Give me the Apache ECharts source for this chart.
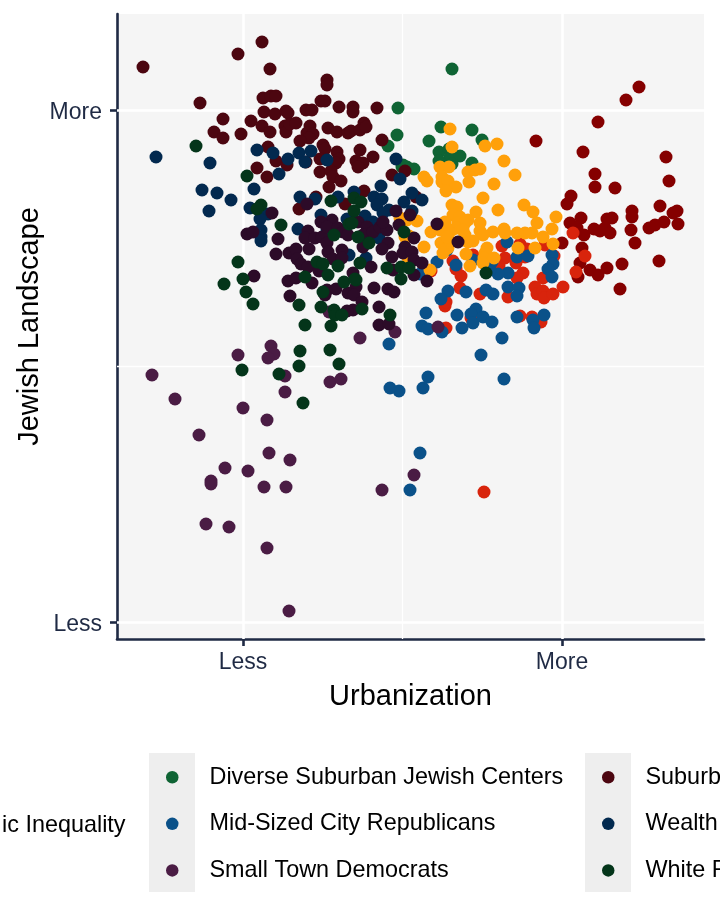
<!DOCTYPE html>
<html><head><meta charset="utf-8">
<style>html,body{margin:0;padding:0;background:#fff;overflow:hidden}#c{width:720px;height:921px}</style>
<script src="https://cdn.jsdelivr.net/npm/echarts@6/dist/echarts.min.js"></script>
</head><body><div id="c"></div>
<script>
const xTickValues=[0,319];
const xTickLabels=['Less','More'];
const yTickValues=[0,512];
const yTickLabels=['Less','More'];
const xMinorValues=[159.5];
const yMinorValues=[256];
const darkRed=[[396,535],[383,522],[355,500],[293,481],[340,470],[423,465],[352,448],[352,435],[372,434],[426,441],[328,426],[324,418],[417,416],[434,411],[430,409],[421,400],[435,398],[412,397],[406,394],[389,411],[389,405],[388,392],[392,379],[369,404],[364,403],[338,404],[327,399],[334,394],[341,387],[351,393],[357,391],[362,394],[367,389],[319,379],[339,374],[337,359],[335,345],[347,352],[355,347],[364,354],[379,358],[416,361],[377,333]];
const diverse=[[209,553],[155,514],[154,487],[198,495],[229,492],[239,482],[186,481],[196,470],[206,473],[207,465],[196,461],[217,466],[229,459],[209,458],[171,453],[164,455],[159,455],[145,476],[160,457]];
const orange=[[207,493],[209,475],[242,476],[254,478],[261,461],[272,447],[251,438],[226,440],[225,450],[232,452],[237,453],[197,455],[206,455],[181,445],[184,441],[199,445],[199,440],[205,441],[213,435],[203,431],[240,424],[255,412],[281,417],[290,410],[294,399],[313,405],[309,393],[300,385],[289,389],[282,389],[274,389],[261,393],[262,389],[250,390],[237,399],[237,391],[240,387],[233,410],[225,402],[209,417],[214,415],[210,407],[217,405],[215,399],[222,399],[202,400],[209,392],[214,394],[204,389],[188,390],[174,401],[222,387],[225,380],[230,381],[198,379],[207,380],[181,375],[244,374],[292,374],[310,378],[275,374],[205,374],[164,402],[157,404],[242,369],[241,364],[240,359],[223,368],[227,356],[251,364],[203,373],[206,382],[205,392],[162,385],[200,369],[165,364],[187,352],[166,386],[197,392],[204,385],[220,392]];
const red=[[188,351],[210,361],[259,376],[277,378],[284,373],[230,367],[262,364],[282,365],[302,377],[311,366],[273,359],[256,356],[213,353],[218,346],[217,334],[237,328],[202,316],[203,320],[203,294],[265,325],[280,349],[274,344],[300,344],[292,335],[294,328],[300,331],[301,324],[310,328],[320,335],[277,306],[289,305],[298,300],[228,304],[342,366],[333,350],[330,389],[241,130]];
const midSized=[[264,380],[194,360],[177,348],[204,372],[213,357],[230,362],[274,365],[285,366],[309,367],[310,358],[305,353],[309,345],[265,349],[255,348],[247,352],[249,360],[205,331],[198,323],[223,330],[265,335],[276,334],[274,326],[243,332],[250,328],[183,309],[179,296],[185,293],[199,290],[219,294],[214,307],[233,313],[228,308],[230,299],[240,305],[249,300],[274,305],[301,307],[290,302],[291,294],[259,284],[238,267],[185,245],[180,234],[261,243],[156,231],[147,234],[177,169],[167,132],[146,278]];
const smallTown=[[-91,247],[-68,223],[-44,187],[0,214],[24,202],[-5,267],[28,276],[31,268],[25,264],[42,246],[42,230],[87,240],[98,243],[117,284],[26,169],[47,162],[-18,154],[5,151],[-32,141],[-32,138],[21,135],[43,135],[139,132],[171,147],[-37,98],[-14,95],[24,74],[46,11],[86,310],[152,290],[195,295]];
const suburban=[[-100,555],[-5,568],[19,580],[27,553],[-43,519],[84,542],[84,537],[20,524],[28,526],[33,526],[78,521],[82,521],[96,515],[110,515],[110,510],[134,514],[21,510],[32,508],[43,511],[45,509],[63,512],[69,512],[-20,503],[8,501],[19,496],[27,490],[-29,490],[-2,488],[-20,484],[42,496],[43,490],[47,498],[53,499],[67,496],[85,494],[94,490],[105,489],[108,491],[117,492],[121,499],[123,495],[64,489],[70,488],[66,484],[57,481],[80,477],[82,473],[139,482],[25,475],[94,470],[117,472],[130,465],[77,463],[96,463],[93,459],[33,461],[44,457],[63,460],[113,461],[120,459],[115,455],[14,454],[24,445],[77,450],[88,451],[90,445],[98,441],[86,435],[149,447],[162,451],[121,431],[102,418],[73,425],[56,413],[173,425]];
const wealthy=[[-87,465],[-33,459],[-41,432],[-26,429],[-12,422],[-34,411],[14,472],[30,469],[45,463],[56,469],[68,471],[62,460],[84,462],[36,448],[11,433],[7,414],[153,463],[157,443],[138,436],[57,425],[72,423],[95,425],[111,430],[131,425],[139,423],[134,417],[161,420],[146,412],[140,409],[78,407],[104,403],[122,406],[130,400],[136,384],[25,408],[17,403],[18,392],[18,385],[18,381],[55,393],[84,392],[106,367],[123,364],[169,429],[179,422],[169,411]];
const darkPurple=[[4,388],[10,390],[35,383],[33,368],[46,369],[53,373],[54,363],[58,358],[65,391],[62,384],[66,373],[72,384],[79,385],[84,379],[85,370],[89,402],[78,400],[84,395],[95,394],[100,390],[105,387],[115,400],[124,395],[120,387],[130,390],[137,395],[144,392],[140,400],[90,363],[99,372],[99,364],[65,355],[76,351],[120,375],[145,379],[139,373],[149,365],[150,352],[162,375],[160,369],[169,370],[171,384],[156,397],[167,407],[153,411],[171,362],[179,359],[171,347],[184,341],[128,355],[11,346],[45,341],[53,344],[69,339],[47,326],[84,332],[82,327],[93,333],[110,349],[113,335],[105,329],[111,327],[131,334],[145,333],[151,330],[119,320],[110,312],[104,311],[136,315],[136,297],[146,298],[64,418],[29,409],[194,398],[215,380]];
const whiteR=[[-47,476],[4,446],[18,417],[14,413],[38,397],[88,421],[111,424],[118,420],[111,411],[106,398],[161,390],[91,387],[126,379],[144,354],[158,355],[166,354],[158,343],[-5,360],[0,343],[-19,338],[3,330],[10,318],[74,360],[80,358],[95,356],[117,359],[85,347],[62,345],[101,340],[113,342],[80,330],[56,317],[78,315],[91,312],[92,307],[99,307],[119,313],[147,307],[62,297],[88,296],[57,271],[87,272],[96,258],[56,256],[-1,252],[36,248],[60,219],[115,385],[109,399],[112,343],[243,349]];
const seriesDefs=[
 ['Cluster dark red',darkRed,'#850000'],
 ['Diverse Suburban Jewish Centers',diverse,'#0f6434'],
 ['Cluster red',red,'#d8240c'],
 ['Mid-Sized City Republicans',midSized,'#0a5189'],
 ['Cluster orange',orange,'#ffa00a'],
 ['Small Town Democrats',smallTown,'#4a1c44'],
 ['Suburb',suburban,'#4c0610'],
 ['Wealth',wealthy,'#02294f'],
 ['Cluster dark purple',darkPurple,'#2c0b28'],
 ['White F',whiteR,'#04351a']
];
const inkAxis='#1f2a44';
const legendBase={orient:'vertical',top:762.5,padding:0,itemWidth:12.5,itemHeight:12.5,icon:'circle',itemGap:17.1,selectedMode:false,
 textStyle:{fontFamily:'Liberation Sans',fontSize:23.4,color:'#000',lineHeight:26.5,padding:[3,0,0,26]}};
const gridLines=[
 ...xTickValues.map(v=>({xAxis:v,lineStyle:{width:2.6}})),
 ...yTickValues.map(v=>({yAxis:v,lineStyle:{width:2.6}})),
 ...xMinorValues.map(v=>({xAxis:v,lineStyle:{width:1.3}})),
 ...yMinorValues.map(v=>({yAxis:v,lineStyle:{width:1.3}}))
];
const chart=echarts.init(document.getElementById('c'),null,{renderer:'canvas'});
chart.setOption({
 animation:false,
 backgroundColor:'#fff',
 grid:{left:117,right:16,top:14,bottom:282,show:true,backgroundColor:'#f5f5f5',borderWidth:0},
 xAxis:{type:'value',min:-126,max:461,
  name:'Urbanization',nameLocation:'middle',nameGap:43,nameMoveOverlap:false,
  nameTextStyle:{fontFamily:'Liberation Sans',fontSize:29,color:'#000'},
  axisLine:{show:true,onZero:false,lineStyle:{color:inkAxis,width:2.6}},
  axisTick:{show:true,length:7,customValues:xTickValues,lineStyle:{color:inkAxis,width:2.6}},
  axisLabel:{customValues:xTickValues,margin:12,fontFamily:'Liberation Sans',fontSize:23,color:inkAxis,
   formatter:v=>xTickLabels[xTickValues.indexOf(v)]||''},
  splitLine:{show:false}},
 yAxis:{type:'value',min:-17,max:608,
  name:'Jewish Landscape',nameLocation:'middle',nameGap:73,nameMoveOverlap:false,
  nameTextStyle:{fontFamily:'Liberation Sans',fontSize:29,color:'#000'},
  axisLine:{show:true,onZero:false,lineStyle:{color:inkAxis,width:2.6}},
  axisTick:{show:true,length:7,customValues:yTickValues,lineStyle:{color:inkAxis,width:2.6}},
  axisLabel:{customValues:yTickValues,margin:15,
   formatter:v=>'{t|'+(yTickLabels[yTickValues.indexOf(v)]||'')+'}',
   rich:{t:{fontFamily:'Liberation Sans',fontSize:23,color:inkAxis,padding:[6,0,0,0]}}},
  splitLine:{show:false}},
 legend:[
  {...legendBase,left:166,data:['Diverse Suburban Jewish Centers','Mid-Sized City Republicans','Small Town Democrats']},
  {...legendBase,left:602,data:['Suburb','Wealth','White F']}
 ],
 graphic:[
  {type:'rect',z:-1,shape:{x:149,y:753,width:46,height:139},style:{fill:'#eeeeee'}},
  {type:'rect',z:-1,shape:{x:585,y:753,width:46,height:139},style:{fill:'#eeeeee'}},
  {type:'text',left:2,top:814,style:{text:'ic Inequality',fontFamily:'Liberation Sans',fontSize:23.4,fill:'#000'}}
 ],
 series:[
  {type:'scatter',name:'grid lines',data:[],silent:true,z:1,
   markLine:{z:1,silent:true,symbol:'none',label:{show:false},animation:false,lineStyle:{color:'#fff',type:'solid'},data:gridLines}},
  ...seriesDefs.map(([name,data,color])=>({type:'scatter',name,data,symbol:'circle',symbolSize:13,z:3,
   itemStyle:{color,opacity:1},emphasis:{disabled:true}}))
 ]
});
</script></body></html>
